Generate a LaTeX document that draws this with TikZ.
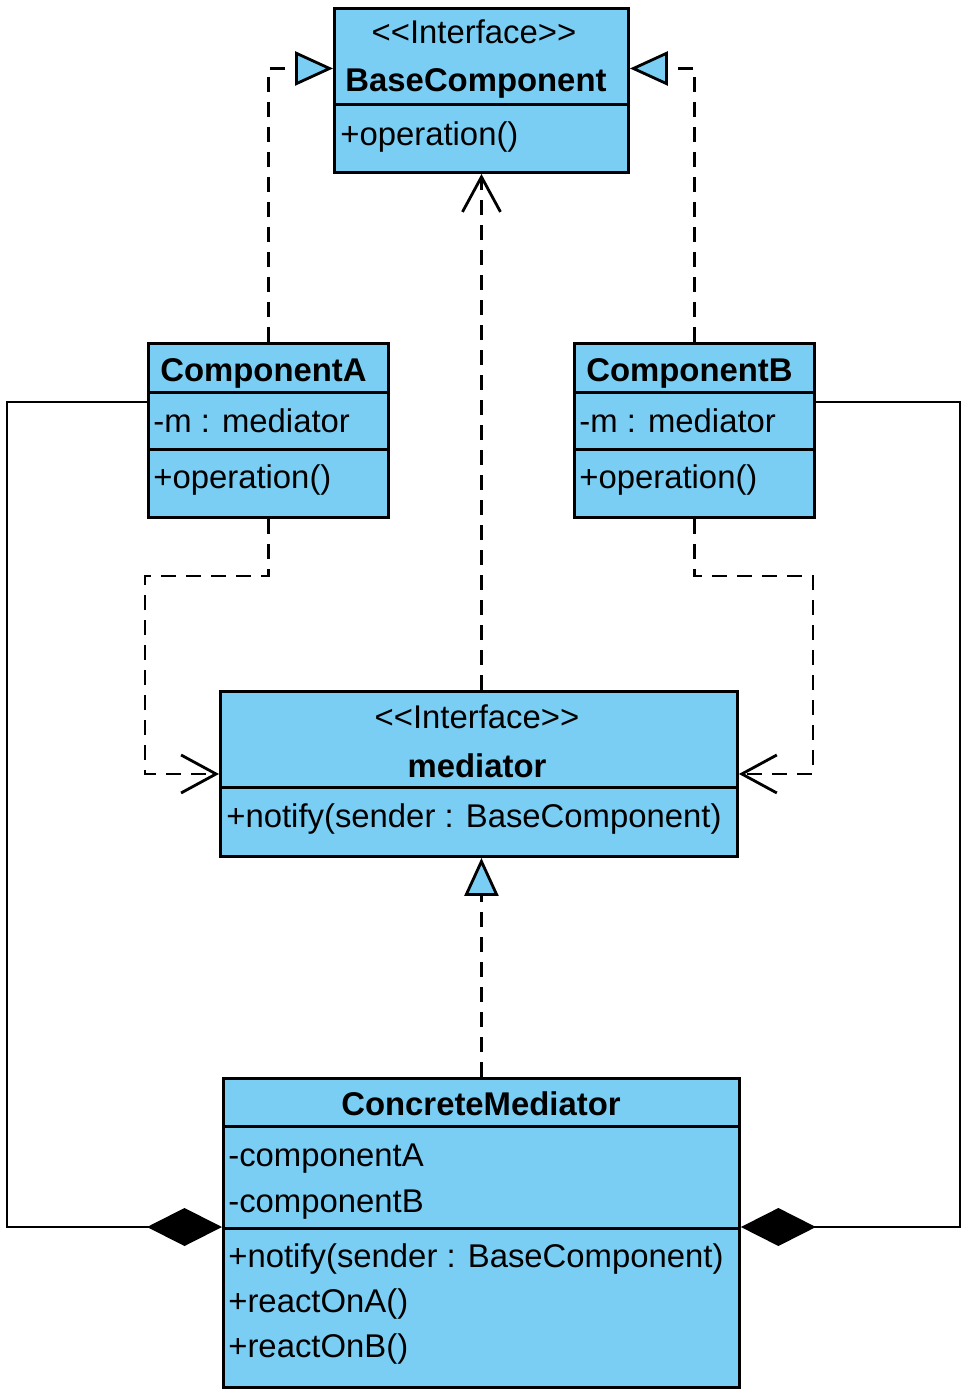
\documentclass[tikz,border=0pt]{standalone}
\usepackage{fontspec}
\setmainfont{Liberation Sans}
\usetikzlibrary{arrows.meta}
\definecolor{umlazul}{RGB}{122,206,244}

\tikzset{
  caja/.style={draw, line width=1.7pt, fill=umlazul, anchor=north west, inner sep=0pt},
  txt/.style={inner sep=0pt, font=\fontsize{18.7}{22}\selectfont},
  negrita/.style={inner sep=0pt, font=\fontsize{18.7}{22}\selectfont\bfseries},
  dep/.style={line width=1.6pt, dash pattern=on 0.3cm off 0.2cm, -{Straight Barb[length=0.7cm, width=0.76cm]}},
  real/.style={line width=1.6pt, dash pattern=on 0.3cm off 0.2cm, -{Triangle[length=0.76cm, width=0.68cm, fill=umlazul]}},
  comp/.style={line width=1.6pt, {Diamond[length=1.5cm, width=0.76cm]}-}
}

\begin{document}
\begin{tikzpicture}[x=0.02cm, y=-0.02cm]
\useasboundingbox (0,0) rectangle (972,1398);

%Interfaz BaseComponent
\node[caja, minimum width=5.88cm, minimum height=1.92cm] (baseTit) at (333,7) {};
\node[caja, minimum width=5.88cm, minimum height=1.36cm] (baseOps) at (333,103) {};
\node[txt, anchor=base] (baseEst) at (474,44) {{<}{<}Interface{>}{>}};
\node[negrita, anchor=base] (baseNom) at (476,92) {BaseComponent};
\node[txt, anchor=base west] (baseOp) at (340,146) {+operation()};

%ComponentA
\node[caja, minimum width=4.8cm, minimum height=0.98cm] (compATit) at (147,342) {};
\node[caja, minimum width=4.8cm, minimum height=1.14cm] (compAAtr) at (147,391) {};
\node[caja, minimum width=4.8cm, minimum height=1.36cm] (compAOps) at (147,448) {};
\node[negrita, anchor=base west] (compANom) at (160,381) {ComponentA};
\node[txt, anchor=base west] (compAAt) at (153,432) {-m : mediator};
\node[txt, anchor=base west] (compAOp) at (153,488) {+operation()};

%ComponentB
\node[caja, minimum width=4.8cm, minimum height=0.98cm] (compBTit) at (573,342) {};
\node[caja, minimum width=4.8cm, minimum height=1.14cm] (compBAtr) at (573,391) {};
\node[caja, minimum width=4.8cm, minimum height=1.36cm] (compBOps) at (573,448) {};
\node[negrita, anchor=base west] (compBNom) at (586,381) {ComponentB};
\node[txt, anchor=base west] (compBAt) at (579,432) {-m : mediator};
\node[txt, anchor=base west] (compBOp) at (579,488) {+operation()};

%Interfaz mediator
\node[caja, minimum width=10.34cm, minimum height=1.92cm] (medTit) at (219,690) {};
\node[caja, minimum width=10.34cm, minimum height=1.38cm] (medOps) at (219,786) {};
\node[txt, anchor=base] (medEst) at (477,728) {{<}{<}Interface{>}{>}};
\node[negrita, anchor=base] (medNom) at (477,777) {mediator};
\node[txt, anchor=base west] (medOp) at (226,827) {+notify(sender : BaseComponent)};

%ConcreteMediator
\node[caja, minimum width=10.32cm, minimum height=0.96cm] (cmTit) at (222,1077) {};
\node[caja, minimum width=10.32cm, minimum height=2.04cm] (cmAtr) at (222,1125) {};
\node[caja, minimum width=10.32cm, minimum height=3.18cm] (cmOps) at (222,1227) {};
\node[negrita, anchor=base] (cmNom) at (481,1115) {ConcreteMediator};
\node[txt, anchor=base west] (cmAt1) at (228,1166) {-componentA};
\node[txt, anchor=base west] (cmAt2) at (228,1212) {-componentB};
\node[txt, anchor=base west] (cmOp1) at (228,1267) {+notify(sender : BaseComponent)};
\node[txt, anchor=base west] (cmOp2) at (228,1312) {+reactOnA()};
\node[txt, anchor=base west] (cmOp3) at (228,1357) {+reactOnB()};

%Realizaciones
\draw[real] (compATit.north) |- ([yshift=-0.24cm]baseTit.west);
\draw[real] (compBTit.north) |- ([yshift=-0.24cm]baseTit.east);
\draw[real] (cmTit.north) -- (cmTit.north |- medOps.south);

%Dependencias
\coordinate (codoA) at (145,576);
\coordinate (codoB) at (813,576);
\draw[dep] (compAOps.south) |- (codoA) |- ([yshift=0.3cm]medTit.south west);
\draw[dep] (compBOps.south) |- (codoB) |- ([yshift=0.3cm]medTit.south east);
\draw[dep] (medTit.north -| baseOps.south) -- (baseOps.south);

%Composiciones
\coordinate (rielA) at (7,402);
\coordinate (rielB) at (960,402);
\draw[comp] (cmOps.north west) -| (rielA) -- (rielA -| compAAtr.west);
\draw[comp] (cmOps.north east) -| (rielB) -- (rielB -| compBAtr.east);
\end{tikzpicture}
\end{document}
